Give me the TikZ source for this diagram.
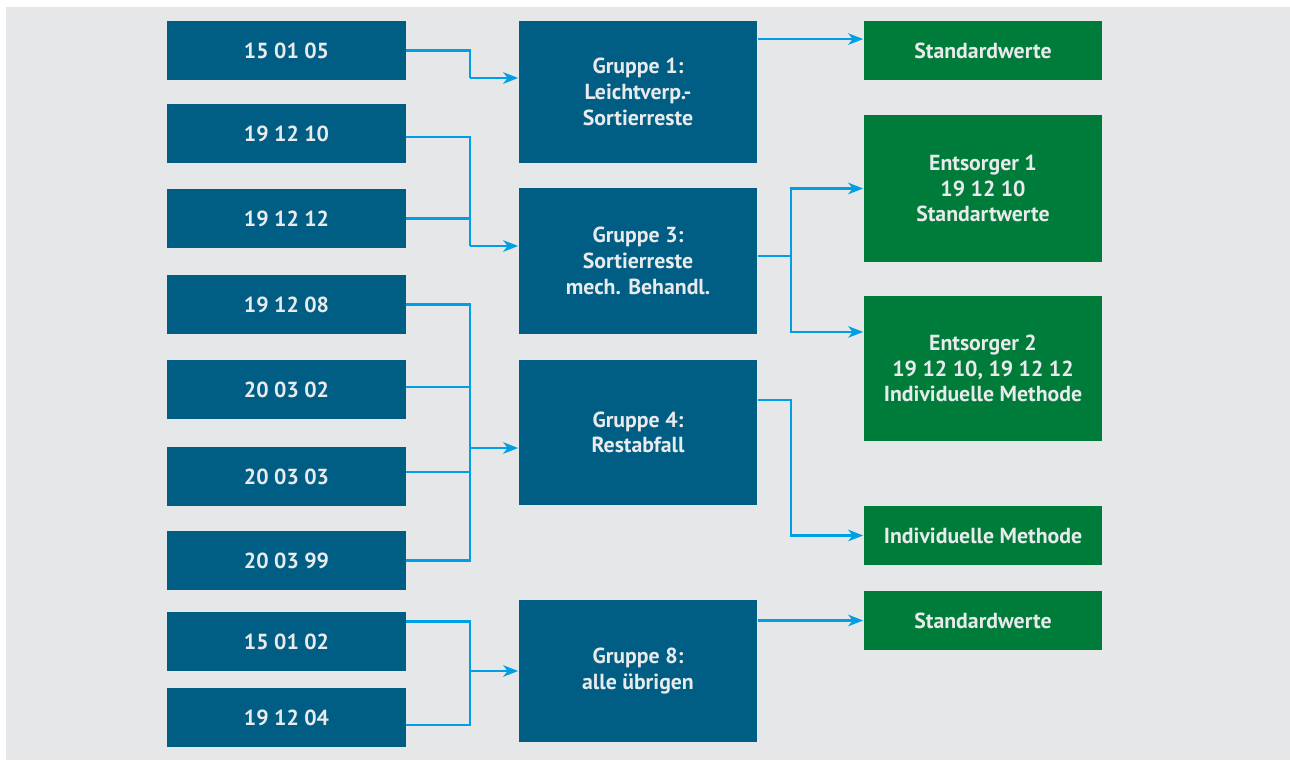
\documentclass[tikz,border=0pt]{standalone}
\usepackage{fontspec}
\setmainfont{PT Sans}
\usetikzlibrary{arrows.meta}
\definecolor{bg}{HTML}{E6E7E8}
\definecolor{cblue}{HTML}{005E85}
\definecolor{cgreen}{HTML}{007C3A}
\definecolor{cline}{HTML}{009FE3}
\definecolor{ctext}{HTML}{E9EAEB}
\tikzset{
  box/.style={rectangle, inner sep=0pt, minimum width=4.78cm, align=center,
    text=ctext, font=\fontsize{12.4}{14.6}\selectfont\bfseries},
  code/.style={box, fill=cblue, minimum height=1.18cm},
  gruppe/.style={box, fill=cblue},
  result/.style={box, fill=cgreen},
  line/.style={draw=cline, line width=1.4pt},
  link/.style={line, -{Stealth[length=8.5pt, width=6.5pt, inset=2.5pt]}}
}
\begin{document}
\begin{tikzpicture}[x=0.02cm, y=-0.02cm]
      \useasboundingbox (0,0) rectangle (1290,760);
      \fill[bg] (6,7) rectangle (1290,760);
      % Abfallschluessel
      \node[code] (c150105) at (286.5,50.5) {15 01 05};
      \node[code] (c191210) at (286.5,133.5) {19 12 10};
      \node[code] (c191212) at (286.5,218.5) {19 12 12};
      \node[code] (c191208) at (286.5,304.5) {19 12 08};
      \node[code] (c200302) at (286.5,389.5) {20 03 02};
      \node[code] (c200303) at (286.5,476.5) {20 03 03};
      \node[code] (c200399) at (286.5,560.5) {20 03 99};
      \node[code] (c150102) at (286.5,641.5) {15 01 02};
      \node[code] (c191204) at (286.5,717.5) {19 12 04};
      % Gruppen
      \node[gruppe, minimum height=2.84cm] (g1) at (638,92) {Gruppe 1:\\Leichtverp.-\\Sortierreste};
      \node[gruppe, minimum height=2.92cm] (g3) at (638,261) {Gruppe 3:\\Sortierreste\\mech. Behandl.};
      \node[gruppe, minimum height=2.91cm] (g4) at (638,432.5) {Gruppe 4:\\Restabfall};
      \node[gruppe, minimum height=2.85cm] (g8) at (638,671) {Gruppe 8:\\alle übrigen};
      % Methoden
      \node[result, minimum height=1.19cm] (s1) at (983,50.5) {Standardwerte};
      \node[result, minimum height=2.94cm] (e1) at (983,188.5) {Entsorger 1\\19 12 10\\Standartwerte};
      \node[result, minimum height=2.90cm] (e2) at (983,368.5) {Entsorger 2\\19 12 10, 19 12 12\\Individuelle Methode};
      \node[result, minimum height=1.19cm] (im) at (983,535.5) {Individuelle Methode};
      \node[result, minimum height=1.19cm] (s8) at (983,620.5) {Standardwerte};
      % Sammelpunkte
      \coordinate (j1) at (470,78);
      \coordinate (j3) at (470,246);
      \coordinate (j4) at (470,448);
      \coordinate (j8) at (470,671);
      \coordinate (k3) at (791,256);
      \coordinate (k4) at (791,400);
      % Verbindungen
      \draw[line] (c150105.east) -| (j1);
      \draw[link] (j1) -- (j1 -| g1.west);
      \draw[line] ([yshift=-2pt]c191210.east) -| (j3);
      \draw[line] (c191212.east) -| (j3);
      \draw[link] (j3) -- (j3 -| g3.west);
      \draw[line] (c191208.east) -| (j4);
      \draw[line] ([yshift=1.4pt]c200302.east) -| (j4);
      \draw[line] ([yshift=2.6pt]c200303.east) -| (j4);
      \draw[line] (c200399.east) -| (j4);
      \draw[link] (j4) -- (j4 -| g4.west);
      \draw[line] ([yshift=11.4pt]c150102.east) -| (j8);
      \draw[line] ([yshift=-4.3pt]c191204.east) -| (j8);
      \draw[link] (j8) -- (j8 -| g8.west);
      \draw[link] ([yshift=6.5pt]s1.west -| g1.east) -- ([yshift=6.5pt]s1.west);
      \draw[line] (k3 -| g3.east) -- (k3);
      \draw[link] (k3) |- (e1.west);
      \draw[link] (k3) |- ([yshift=20.8pt]e2.west);
      \draw[link] (k4 -| g4.east) -- (k4) |- (im.west);
      \draw[link] (s8.west -| g8.east) -- (s8.west);
    \end{tikzpicture}
\end{document}
